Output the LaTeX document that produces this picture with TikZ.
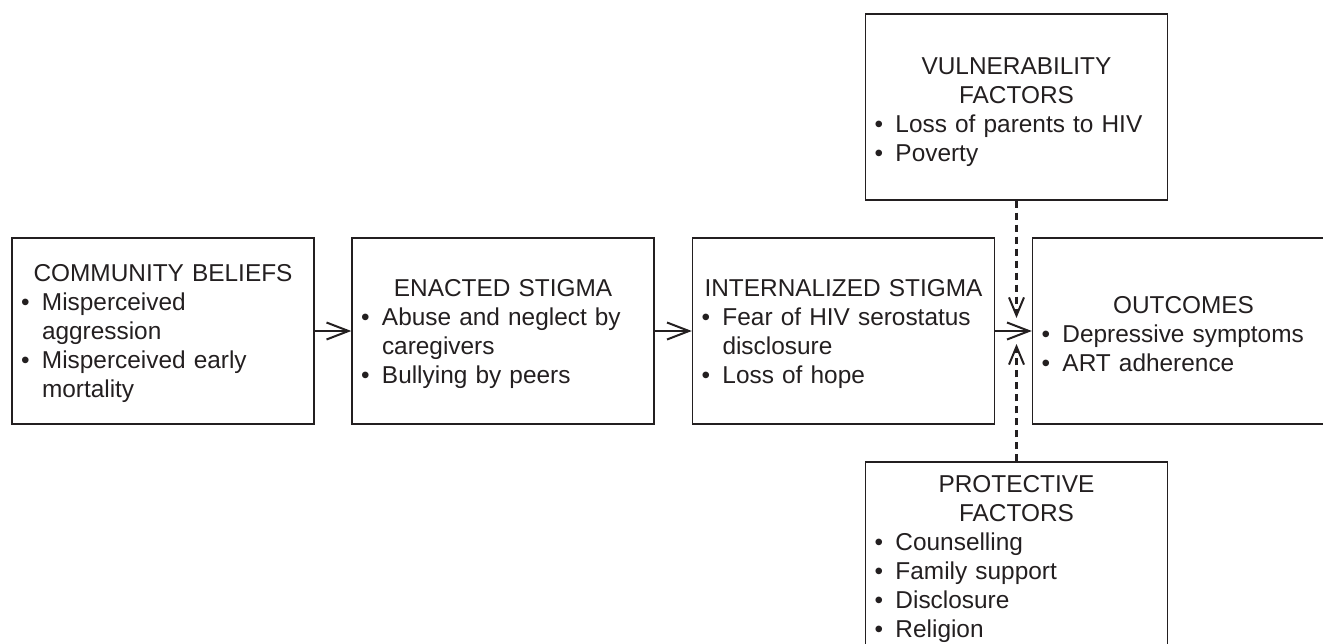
\documentclass[tikz,border=0pt]{standalone}
\usepackage{fontspec}
\setmainfont{Liberation Sans}
\usetikzlibrary{arrows.meta}
\definecolor{ink}{RGB}{35,31,32}
\newcommand{\bxtitle}[1]{\makebox[\linewidth][c]{#1}}
\newcommand{\bxitem}[1]{\makebox[10.5pt][l]{\textbullet}#1}
\newcommand{\bxcont}[1]{\hspace*{10.5pt}#1}
\begin{document}
\begin{tikzpicture}[x=0.5pt,y=-0.5pt,
  box/.style={draw=ink, line width=0.7pt, minimum width=151pt, minimum height=93pt, inner sep=0pt},
  txt/.style={text=ink, text width=142pt, align=left, inner sep=0pt, font=\fontsize{12.2}{14.5}\selectfont},
  arr/.style={draw=ink, line width=1pt, -{Straight Barb[length=11pt,width=8.5pt]}},
  darr/.style={draw=ink, line width=1.3pt, dash pattern=on 3.6pt off 2.4pt, -{Straight Barb[length=9pt,width=7.5pt,line width=1pt]}}]
\useasboundingbox (0,0) rectangle (1323,643);
\clip (0,0) rectangle (1323,643);

% boxes
\node[box] (cb) at (163,331) {};
\node[box] (es) at (503,331) {};
\node[box] (is) at (843.5,331) {};
\node[box] (oc) at (1183.5,331) {};
\node[box] (vf) at (1016.5,107) {};
\node[box, minimum height=97pt] (pf) at (1016.5,559) {};

% texts
\node[txt] (cbt) at ([yshift=-1.5pt]cb.center) {\bxtitle{COMMUNITY BELIEFS}\\
\bxitem{Misperceived}\\
\bxcont{aggression}\\
\bxitem{Misperceived early}\\
\bxcont{mortality}};
\node[txt] (est) at ([yshift=-1.5pt]es.center) {\bxtitle{ENACTED STIGMA}\\
\bxitem{Abuse and neglect by}\\
\bxcont{caregivers}\\
\bxitem{Bullying by peers}};
\node[txt] (ist) at ([yshift=-1.5pt]is.center) {\bxtitle{INTERNALIZED STIGMA}\\
\bxitem{Fear of HIV serostatus}\\
\bxcont{disclosure}\\
\bxitem{Loss of hope}};
\node[txt] (oct) at ([yshift=-1.5pt]oc.center) {\bxtitle{OUTCOMES}\\
\bxitem{Depressive symptoms}\\
\bxitem{ART adherence}};
\node[txt] (vft) at ([yshift=-2.5pt]vf.center) {\bxtitle{VULNERABILITY}\\
\bxtitle{FACTORS}\\
\bxitem{Loss of parents to HIV}\\
\bxitem{Poverty}};
\node[txt] (pft) at (pf.center) {\bxtitle{PROTECTIVE}\\
\bxtitle{FACTORS}\\
\bxitem{Counselling}\\
\bxitem{Family support}\\
\bxitem{Disclosure}\\
\bxitem{Religion}};

% connectors
\draw[arr] (cb.east) -- (es.west);
\draw[arr] (es.east) -- (is.west);
\draw[arr] (is.east) -- (oc.west);
\coordinate (tipT) at (1016.5,318);
\coordinate (tipB) at (1016.5,344);
\draw[darr] (vf.south) -- (tipT);
\draw[darr] (pf.north) -- (tipB);
\end{tikzpicture}
\end{document}
